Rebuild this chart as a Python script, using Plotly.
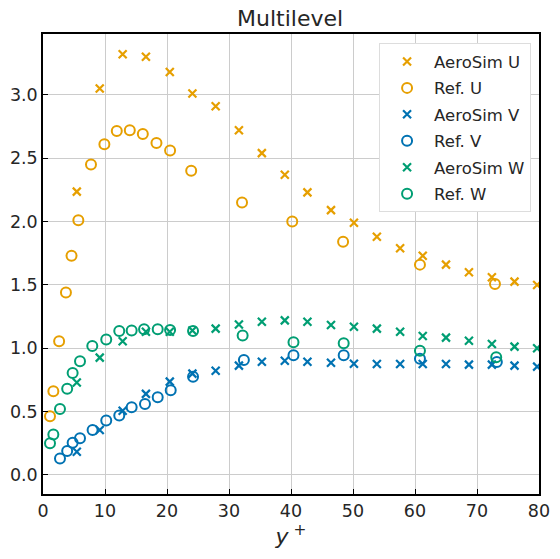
import plotly.graph_objects as go

# AeroSim grid positions (y+)
aero_x = [5.45, 9.15, 12.85, 16.6, 20.45, 24.1, 27.85, 31.6, 35.3, 39.0, 42.65, 46.45,
          50.15, 53.85, 57.6, 61.25, 65.0, 68.7, 72.4, 76.05, 79.7]
aero_u = [2.236, 3.05, 3.32, 3.30, 3.18, 3.01, 2.91, 2.72, 2.54, 2.37, 2.23, 2.09,
          1.99, 1.88, 1.79, 1.73, 1.66, 1.60, 1.56, 1.526, 1.50]
aero_v = [0.184, 0.355, 0.507, 0.64, 0.737, 0.80, 0.823, 0.863, 0.894, 0.902, 0.894, 0.886,
          0.878, 0.876, 0.876, 0.876, 0.876, 0.871, 0.871, 0.863, 0.855]
aero_w = [0.73, 0.926, 1.055, 1.13, 1.13, 1.14, 1.155, 1.187, 1.21, 1.22, 1.21, 1.184,
          1.17, 1.155, 1.13, 1.097, 1.084, 1.06, 1.034, 1.013, 1.0]

# Reference data
ref_u_x = [1.13, 1.67, 2.6, 3.7, 4.6, 5.7, 7.74, 9.9, 11.9, 14.0, 16.1, 18.3, 20.5, 23.9,
           32.1, 40.2, 48.4, 60.8, 72.9]
ref_u = [0.463, 0.66, 1.055, 1.44, 1.73, 2.01, 2.45, 2.61, 2.715, 2.72, 2.69, 2.62, 2.56, 2.40,
         2.15, 2.00, 1.84, 1.66, 1.507]

ref_v_x = [2.74, 3.9, 4.78, 5.97, 8.0, 10.2, 12.3, 14.3, 16.45, 18.5, 20.6, 24.2,
           32.4, 40.4, 48.5, 60.8, 73.2]
ref_v = [0.13, 0.19, 0.255, 0.29, 0.355, 0.43, 0.47, 0.535, 0.56, 0.613, 0.668, 0.776,
         0.908, 0.945, 0.945, 0.918, 0.892]

ref_w_x = [1.13, 1.67, 2.74, 3.9, 4.78, 5.97, 7.95, 10.2, 12.3, 14.3, 16.3, 18.5, 20.5, 24.2,
           32.2, 40.4, 48.5, 60.8, 73.1]
ref_w = [0.25, 0.32, 0.52, 0.68, 0.805, 0.897, 1.018, 1.07, 1.136, 1.14, 1.15, 1.15, 1.145, 1.137,
         1.10, 1.047, 1.04, 0.98, 0.93]

ORANGE = "#E69F00"
BLUE = "#0072B2"
GREEN = "#009E73"

fig = go.Figure()

def add_x(x, y, color, name, g):
    fig.add_trace(go.Scatter(x=x, y=y, mode="markers", name=name, legendgroup=g,
                             marker=dict(symbol="x-thin-open", size=8, color=color,
                                         line=dict(color=color, width=2.2))))

def add_o(x, y, color, name, g):
    fig.add_trace(go.Scatter(x=x, y=y, mode="markers", name=name, legendgroup=g,
                             marker=dict(symbol="circle-open", size=10, color=color,
                                         line=dict(color=color, width=2))))

add_x(aero_x, aero_u, ORANGE, "AeroSim U", "a")
add_o(ref_u_x, ref_u, ORANGE, "Ref. U", "b")
add_x(aero_x, aero_v, BLUE, "AeroSim V", "c")
add_o(ref_v_x, ref_v, BLUE, "Ref. V", "d")
add_x(aero_x, aero_w, GREEN, "AeroSim W", "e")
add_o(ref_w_x, ref_w, GREEN, "Ref. W", "f")

axis_common = dict(showline=True, linecolor="black", linewidth=1.5, mirror=True,
                   ticks="inside", ticklen=5, tickcolor="black", tickwidth=1,
                   showgrid=True, gridcolor="#cccccc", gridwidth=1, zeroline=False,
                   automargin=False,
                   tickfont=dict(family="DejaVu Sans", size=17.5, color="#262626"))

fig.update_layout(
    width=560, height=559,
    margin=dict(l=43, r=21, t=34, b=65),
    paper_bgcolor="white", plot_bgcolor="white",
    title=dict(text="Multilevel", x=0.518, xanchor="center", y=0.967, yanchor="middle",
               font=dict(family="DejaVu Sans", size=22, color="#262626")),
    xaxis=dict(range=[0, 80], dtick=10, tickformat="d",
               title=dict(text="<i>y</i><sup> +</sup>", standoff=9,
                          font=dict(family="DejaVu Sans", size=22, color="#262626")),
               **axis_common),
    yaxis=dict(range=[-0.15, 3.48], dtick=0.5, tick0=0, tickformat=".1f", **axis_common),
    legend=dict(x=0.984, y=0.98, xanchor="right", yanchor="top",
                bgcolor="white", bordercolor="#dddddd", borderwidth=1,
                font=dict(family="DejaVu Sans", size=16.5, color="#262626"),
                tracegroupgap=2, itemwidth=44),
    showlegend=True,
)

fig.write_html("out.html")
